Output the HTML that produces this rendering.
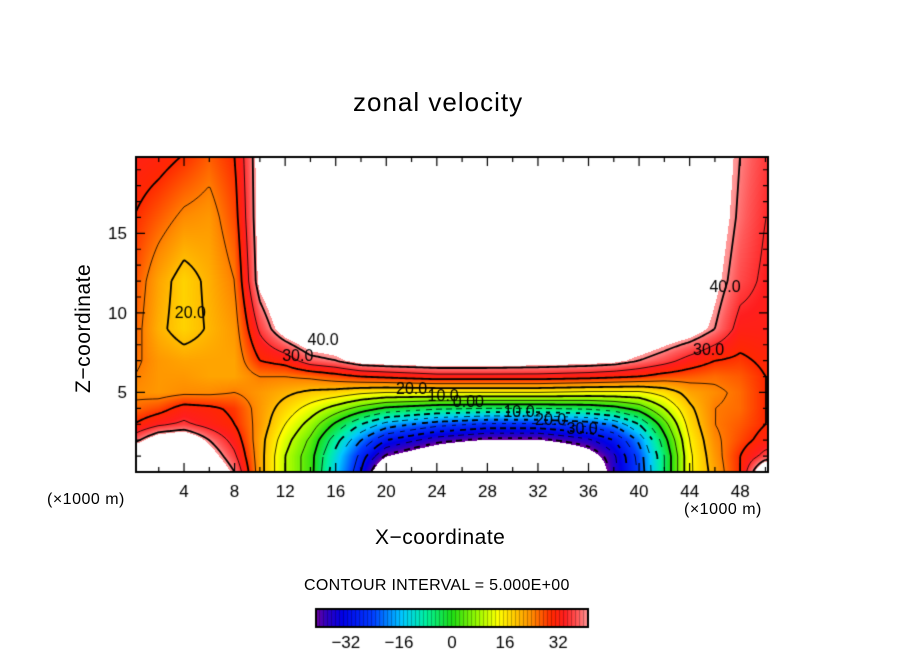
<!DOCTYPE html>
<html><head><meta charset="utf-8">
<style>
body{margin:0;background:#fff;width:904px;height:654px;overflow:hidden;position:relative;font-family:"Liberation Sans","DejaVu Sans",sans-serif}
.t{position:absolute;color:#000;white-space:nowrap}
#cv{position:absolute;left:0;top:0}
</style></head>
<body>
<canvas id="cv" width="904" height="654"></canvas>
<div class="t" style="left:353px;top:87px;font-size:26px;letter-spacing:1px">zonal velocity</div>
<div class="t" style="left:375px;top:526px;font-size:21px;letter-spacing:0.5px">X−coordinate</div>
<div class="t" style="left:72px;top:393px;font-size:21px;letter-spacing:0.5px;transform:rotate(-90deg);transform-origin:0 0">Z−coordinate</div>
<div class="t" style="left:47px;top:491px;font-size:16px;letter-spacing:0.5px">(×1000 m)</div>
<div class="t" style="left:684px;top:501px;font-size:16px;letter-spacing:0.5px">(×1000 m)</div>
<div class="t" style="left:304px;top:577px;font-size:16px;letter-spacing:0.3px">CONTOUR INTERVAL = 5.000E+00</div>
<script>
const X=[0,2,4,6,8,10,12,14,16,18,20,24,28,32,36,38,40,42,44,46,48,50];
const Z=[0,1,2,3,4,5,6,7,9,12,16,20];
// values per column (rows follow Z)
const V=[
[50,50,38,30,26,24,25,26,27,28,30,33],
[50,50,46,34,28,23,23,23,21,22,27,32],
[50,50,48,36,32,24,23,22,18,18,24,30],
[50,45,40,33,31,24,22,22,20.5,21,23,27],
[40,36,33,30,29,25,22,22,23,25,28,30],
[22,22,22,23,23,23,25,30,36,43,44,44],
[10,10,12,15,18,21,25,32,45,50,50,50],
[2,2,4,8,13,19,26,38,50,50,50,50],
[-14,-12,-8,-1,8,18,28,40,50,50,50,50],
[-30,-27,-20,-10,3,16,30,44,50,50,50,50],
[-55,-41,-30,-17,-1,15,31,45,50,50,50,50],
[-70,-50,-38,-23,-4,15,33,46,50,50,50,50],
[-80,-60,-42,-26,-5,15,33,46,50,50,50,50],
[-80,-60,-42,-26,-5,15,33,45,50,50,50,50],
[-55,-46,-36,-23,-4,14,32,44,50,50,50,50],
[-37,-36,-30,-19,-2,14,31,43,50,50,50,50],
[-24,-23,-19,-10,2,14,30,40,50,50,50,50],
[-5,-5,-2,3,10,17,28,37,47,50,50,50],
[14,14,15,17,19,22,27,33,45,50,50,50],
[22,23,24,25,25,24,26,30,40,43,45,46],
[30,30,28,27,26,26,27,29,33,37,39,40],
[50,37,32,30,30,30,30,31,33,34,35,36]];
const xTicks=[4,8,12,16,20,24,28,32,36,40,44,48];
const zTicks=[5,10,15];
const cbTicks=[-32,-16,0,16,32];
const levels=[-40,-35,-30,-25,-20,-15,-10,-5,0,5,10,15,20,25,30,35,40];
const contourLabels=[[4.5,10,20,"20.0"],[13,7.3,30,"30.0"],[15,8.3,40,"40.0"],[22,5.2,20,"20.0"],[24.5,4.8,10,"10.0"],[26.5,4.4,0,"0.00"],[30.5,3.8,-10,"10.0"],[33,3.3,-20,"20.0"],[35.5,2.7,-30,"30.0"],[45.5,7.7,30,"30.0"],[46.8,11.6,40,"40.0"]];

const L=136,R=768,T=157,B=472,x0=0.2,x1=50.2,z0=0,z1=19.8;
const sx=x=>L+(x-x0)/(x1-x0)*(R-L), sz=z=>B-(z-z0)/(z1-z0)*(B-T);
const ix=p=>x0+(p-L)/(R-L)*(x1-x0), iz=p=>z0+(B-p)/(B-T)*(z1-z0);
function seg(a,v){let i=0;while(i<a.length-2&&v>a[i+1])i++;return i;}
function field(x,z){
  x=Math.max(X[0],Math.min(X[X.length-1],x));z=Math.max(Z[0],Math.min(Z[Z.length-1],z));
  const i=seg(X,x),j=seg(Z,z);const tx=(x-X[i])/(X[i+1]-X[i]),tz=(z-Z[j])/(Z[j+1]-Z[j]);
  return (V[i][j]*(1-tx)+V[i+1][j]*tx)*(1-tz)+(V[i][j+1]*(1-tx)+V[i+1][j+1]*tx)*tz;
}
const stops=[[-41,[110,0,160]],[-38,[50,0,190]],[-33,[0,0,230]],[-24,[0,60,255]],[-15,[0,200,255]],[-8,[0,240,160]],[0,[30,220,20]],[8,[160,250,0]],[14,[255,255,0]],[19,[255,200,0]],[24,[255,140,0]],[30,[255,40,0]],[34,[255,30,30]],[38,[255,90,90]],[41,[255,150,150]]];
function col(v){
  if(v<-41.5||v>41.5)return [255,255,255];
  v=Math.max(-41,Math.min(41,v));
  let k=0;while(k<stops.length-2&&v>stops[k+1][0])k++;
  const a=stops[k],b=stops[k+1],t=(v-a[0])/(b[0]-a[0]);
  return a[1].map((c,n)=>Math.round(c+(b[1][n]-c)*t));
}
const cv=document.getElementById('cv'),ctx=cv.getContext('2d');
const W=R-L,H=B-T;const img=ctx.createImageData(W,H);
for(let py=0;py<H;py++)for(let px=0;px<W;px++){
  const c=col(field(ix(L+px+0.5),iz(T+py+0.5)));const o=(py*W+px)*4;
  img.data[o]=c[0];img.data[o+1]=c[1];img.data[o+2]=c[2];img.data[o+3]=255;}
ctx.putImageData(img,L,T);
const st=2,nx=Math.ceil(W/st),ny=Math.ceil(H/st);const G=[];
for(let i=0;i<=nx;i++){G[i]=[];for(let j=0;j<=ny;j++)G[i][j]=field(ix(L+i*st),iz(T+j*st));}
ctx.save();ctx.beginPath();ctx.rect(L,T,W,H);ctx.clip();
levels.forEach(lv=>{
  ctx.lineWidth=(lv%10===0)?1.8:0.8;ctx.strokeStyle='#000';ctx.beginPath();
  for(let i=0;i<nx;i++)for(let j=0;j<ny;j++){
    const c=[[i,j],[i+1,j],[i+1,j+1],[i,j+1]];const pts=[];
    for(let k=0;k<4;k++){const a=c[k],b=c[(k+1)%4];const va=G[a[0]][a[1]],vb=G[b[0]][b[1]];
      if((va<lv)!==(vb<lv)){const t=(lv-va)/(vb-va);pts.push([L+(a[0]+(b[0]-a[0])*t)*st,T+(a[1]+(b[1]-a[1])*t)*st]);}}
    if(pts.length>=2){
      if(lv<0&&Math.floor((pts[0][0]+pts[0][1]*0.3)/5)%2===1)continue;
      ctx.moveTo(pts[0][0],pts[0][1]);ctx.lineTo(pts[1][0],pts[1][1]);
      if(pts.length===4){ctx.moveTo(pts[2][0],pts[2][1]);ctx.lineTo(pts[3][0],pts[3][1]);}
    }}
  ctx.stroke();});
ctx.restore();
ctx.strokeStyle='#000';ctx.lineWidth=2;ctx.strokeRect(L,T,W,H);ctx.lineWidth=1.2;ctx.beginPath();
for(let x=2;x<=50;x+=2){const p=sx(x),len=(x%4===0)?9:5;ctx.moveTo(p,B);ctx.lineTo(p,B-len);ctx.moveTo(p,T);ctx.lineTo(p,T+len);}
for(let z=1;z<=19;z++){const p=sz(z),len=(z%5===0)?9:5;ctx.moveTo(L,p);ctx.lineTo(L+len,p);ctx.moveTo(R,p);ctx.lineTo(R-len,p);}
ctx.stroke();
ctx.fillStyle='#000';ctx.font='17px "Liberation Sans",sans-serif';ctx.textAlign='center';
xTicks.forEach(v=>ctx.fillText(String(v),sx(v),497));
ctx.textAlign='right';zTicks.forEach(v=>ctx.fillText(String(v),127,sz(v)+6));
ctx.font='16px "Liberation Sans",sans-serif';ctx.textAlign='center';
contourLabels.forEach(c=>{ctx.fillText(c[3],sx(c[0]),sz(c[1])+5);});
const cbL=316,cbR=588,cbT=609,cbB=627,cv0=-41,cv1=41;const cbx=v=>cbL+(v-cv0)/(cv1-cv0)*(cbR-cbL);
for(let p=cbL;p<cbR;p++){const c=col(cv0+(p-cbL+0.5)/(cbR-cbL)*(cv1-cv0));ctx.fillStyle=`rgb(${c})`;ctx.fillRect(p,cbT,1,cbB-cbT);}
ctx.fillStyle='rgba(0,0,0,0.25)';for(let p=cbL+3;p<cbR;p+=4)ctx.fillRect(p,cbT,1,cbB-cbT);
ctx.lineWidth=2;ctx.strokeStyle='#000';ctx.strokeRect(cbL,cbT,cbR-cbL,cbB-cbT);
ctx.fillStyle='#000';ctx.font='17px "Liberation Sans",sans-serif';ctx.textAlign='center';
cbTicks.forEach(v=>ctx.fillText(v<0?'−'+(-v):String(v),cbx(v),648));
</script>
</body></html>
